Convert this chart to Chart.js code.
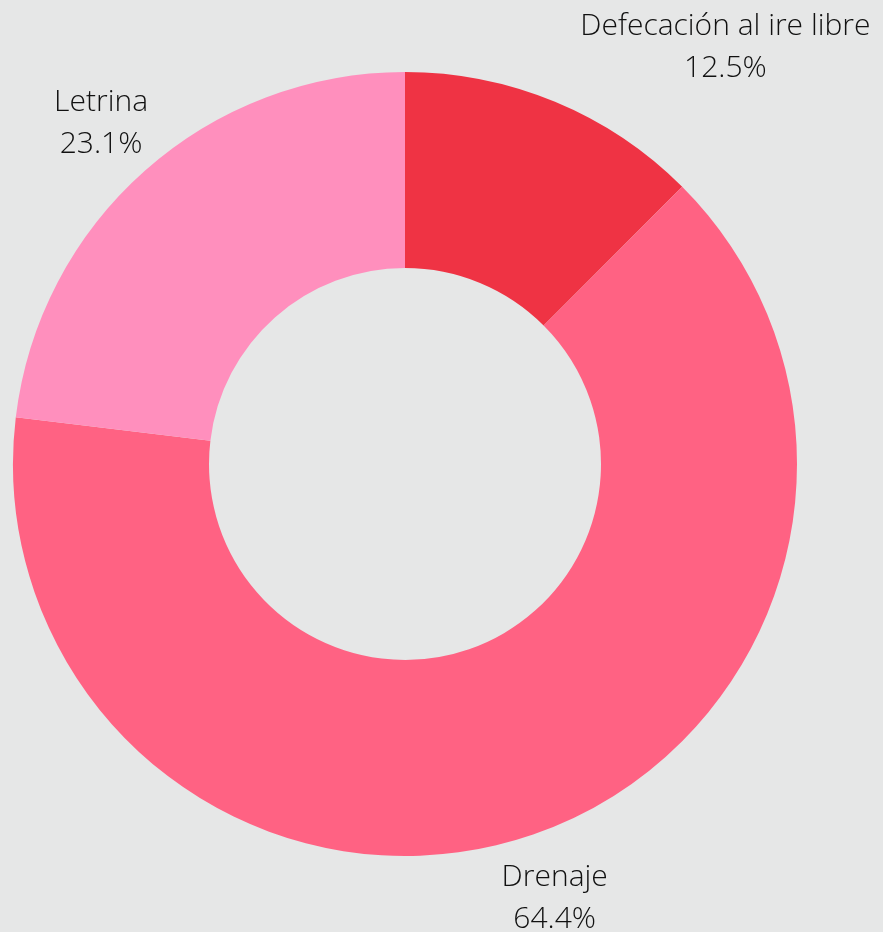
<!DOCTYPE html>
<html>
<head>
<meta charset="utf-8">
<script src="https://cdn.jsdelivr.net/npm/chart.js@4"></script>
<style>
  html, body { margin: 0; padding: 0; background: #e6e7e7; }
  #wrap { width: 883px; height: 932px; position: relative; }
</style>
</head>
<body>
<div id="wrap"><canvas id="chart"></canvas></div>
<script>
const labels = ['Defecación al ire libre', 'Drenaje', 'Letrina'];
const values = [12.5, 64.4, 23.1];
const colors = ['#ef3344', '#ff6283', '#ff8fbd'];

// etiquetas fuera del anillo, en el ángulo medio de cada sector
const outsideLabels = {
    id: 'outsideLabels',
    afterDatasetsDraw(chart, args, opts) {
        const ctx = chart.ctx;
        const meta = chart.getDatasetMeta(0);
        ctx.save();
        ctx.font = '300 30px "Open Sans"';
        ctx.fillStyle = '#111';
        ctx.textBaseline = 'middle';
        meta.data.forEach((arc, i) => {
            const mid = (arc.startAngle + arc.endAngle) / 2;
            const r = arc.outerRadius + opts.offset;
            const x = arc.x + Math.cos(mid) * r;
            const y = Math.max(arc.y + Math.sin(mid) * r, 45) + 2;
            const l1 = labels[i];
            const l2 = values[i].toFixed(1) + '%';
            const w = Math.max(ctx.measureText(l1).width, ctx.measureText(l2).width);
            // bloque alineado a la izquierda o centrado
            const cx = opts.align[i] === 'left' ? x + w / 2 : x;
            ctx.textAlign = 'center';
            ctx.fillText(l1, cx, y - 21);
            ctx.fillText(l2, cx, y + 21);
        });
        ctx.restore();
    }
};

new Chart(document.getElementById('chart'), {
    type: 'doughnut',
    data: {
        labels: labels,
        datasets: [{
            data: values,
            backgroundColor: colors,
            borderWidth: 0
        }]
    },
    options: {
        responsive: true,
        maintainAspectRatio: false,
        animation: false,
        cutout: '50%',
        layout: {
            padding: { left: 13, right: 86, top: 72, bottom: 76 }
        },
        plugins: {
            legend: { display: false },
            tooltip: { enabled: false },
            outsideLabels: { offset: 66, align: ['left', 'center', 'center'] }
        }
    },
    plugins: [outsideLabels]
});
</script>
</body>
</html>
